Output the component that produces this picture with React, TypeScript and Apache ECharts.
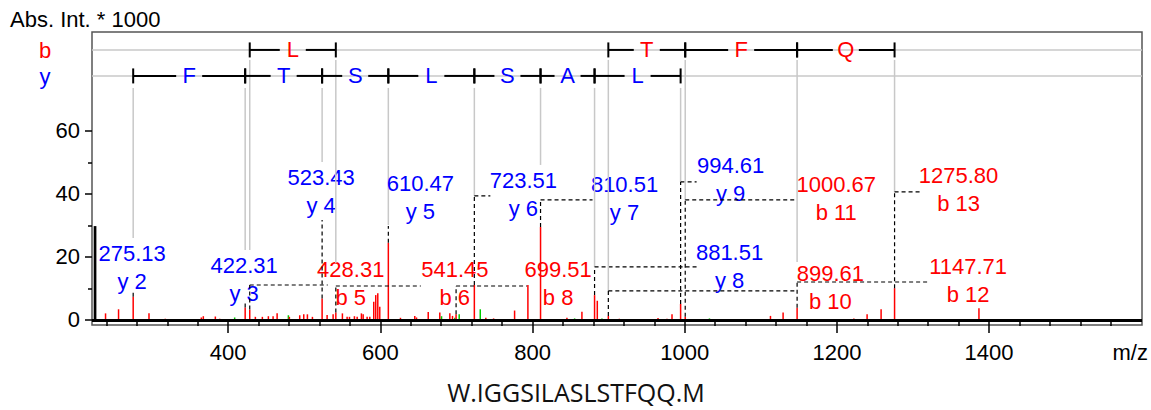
import React, { useEffect, useRef } from 'react';
import * as echarts from 'echarts';

// ---------- axis extents & tick labels ----------
const X_MIN = 221;
const X_MAX = 1601;
const Y_MIN = -1.59;
const Y_MAX = 91.4;

const xMajorTicks = [400, 600, 800, 1000, 1200, 1400];
const xMinorTicks = [240, 280, 320, 360, 440, 480, 520, 560, 640, 680, 720, 760, 840, 880, 920, 960,
  1040, 1080, 1120, 1160, 1240, 1280, 1320, 1360, 1440, 1480, 1520, 1560];
const yMajorTicks = [0, 20, 40, 60];
const yMinorTicks = [10, 30, 50];

// ---------- peaks: [m/z, intensity (x1000)] ----------
const redPeaks: [number, number][] = [
  [238.8, 2.1], [255.9, 3.4], [275.13, 7.4], [295.9, 2.1], [317.3, 0.4], [364.7, 0.8], [367.3, 1.2],
  [383.1, 1.1], [388.8, 0.4], [422.31, 4.0], [428.31, 3.3], [435.7, 1.0], [444.9, 1.0], [452.8, 1.2],
  [459.0, 1.2], [464.3, 2.1], [480.4, 1.0], [494.0, 1.5], [499.3, 1.8], [504.1, 1.8], [510.7, 1.0],
  [523.43, 6.8], [530.0, 1.6], [537.9, 1.8], [541.45, 2.4], [550.1, 2.1], [556.3, 1.0], [559.4, 1.0],
  [565.9, 1.2], [569.5, 1.0], [575.1, 2.1], [577.4, 1.8], [582.6, 1.0], [586.1, 1.0], [591.3, 5.8],
  [593.9, 7.9], [596.6, 8.5], [599.2, 4.2], [610.47, 24.5], [626.4, 0.7], [645.2, 1.3], [647.5, 0.8],
  [662.9, 2.5], [678.1, 2.4], [691.3, 2.1], [694.8, 1.3], [699.51, 1.8], [723.51, 11.1], [738.6, 0.7],
  [748.8, 0.5], [776.4, 3.0], [793.9, 11.1], [810.51, 29.5], [845.2, 0.7], [864.9, 2.6], [881.51, 7.9],
  [885.1, 6.1], [899.61, 1.3], [914.1, 0.4], [964.9, 0.6], [976.7, 0.4], [983.3, 1.8], [994.61, 5.1],
  [1000.67, 1.0], [1112.7, 1.3], [1129.3, 2.4], [1147.71, 3.9], [1222.3, 0.5], [1239.7, 1.8],
  [1258.1, 3.4], [1275.8, 10.1], [1386.7, 3.7],
];
const greenPeaks: [number, number][] = [
  [408.5, 0.8], [479.1, 1.5], [680.4, 1.2], [697.9, 0.7], [703.6, 1.8], [731.3, 3.4], [855.3, 0.5],
  [891.2, 0.5], [1032.5, 0.5],
];
const blackPeaks: [number, number][] = [[225.0, 29.8]];

// ---------- annotated fragment ions ----------
const ionNames = ['y 2', 'y 3', 'b 5', 'y 4', 'b 6', 'y 5', 'b 8', 'y 6', 'y 7', 'y 8', 'b 10', 'y 9', 'b 11', 'b 12', 'b 13'];
const ionMz = [275.13, 422.31, 428.31, 523.43, 541.45, 610.47, 699.51, 723.51, 810.51, 881.51, 899.61, 994.61, 1000.67, 1147.71, 1275.8];

// ---------- sequence ladders ----------
const yLadderMz = [275.13, 422.31, 523.43, 610.47, 723.51, 810.51, 881.51, 994.61];
const yLadderResidues = ['F', 'T', 'S', 'L', 'S', 'A', 'L'];
const bLadderStart = [428.31, 899.61, 1000.67, 1147.71];
const bLadderEnd = [541.45, 1000.67, 1147.71, 1275.8];
const bLadderResidues = ['L', 'T', 'F', 'Q'];

const sequenceText = 'W.IGGSILASLSTFQQ.M';

// ---------- layout (not data) ----------
const B_ROW = 85.71; // y-level of b ladder
const Y_ROW = 77.46; // y-level of y ladder
// dx: label centre offset (px), mid: label centre level, conn: connector level,
// end: horizontal connector length (px), gray: end level of ladder guide line
const labelLayout = [
  { dx: -1, mid: 16.67, conn: 9.21, end: null, gray: 26.03 },
  { dx: -1, mid: 12.7, conn: 5.71, end: null, gray: 22.22 },
  { dx: 101, mid: 11.59, conn: 11.11, end: 78, gray: 22.22 },
  { dx: -1, mid: 40.79, conn: 31.75, end: null, gray: 50.16 },
  { dx: 119, mid: 11.43, conn: 10.79, end: 85, gray: 18.1 },
  { dx: 32, mid: 38.89, conn: 29.84, end: null, gray: 30.16 },
  { dx: 102, mid: 11.43, conn: 10.79, end: 71, gray: null },
  { dx: 49, mid: 39.68, conn: 39.37, end: 16, gray: 39.37 },
  { dx: 84, mid: 38.41, conn: 38.1, end: 52, gray: 49.21 },
  { dx: 135, mid: 16.83, conn: 16.83, end: 102, gray: 16.83 },
  { dx: 222, mid: 10.16, conn: 9.21, end: 188, gray: 9.21 },
  { dx: 50, mid: 44.6, conn: 43.81, end: 16, gray: 43.81 },
  { dx: 151, mid: 38.57, conn: 38.1, end: 111, gray: 38.1 },
  { dx: 171, mid: 12.54, conn: 12.06, end: 131, gray: 18.41 },
  { dx: 64, mid: 41.43, conn: 40.63, end: 25, gray: 40.63 },
];

const FONT = '"Liberation Sans", Arial, sans-serif';
const RED = '#ff0000';
const BLUE = '#0000ff';
const GREEN = '#00cc00';
const GRAY = '#c8c8c8';

const intensityOf = (mz: number) => {
  const p = redPeaks.find((d) => Math.abs(d[0] - mz) < 0.01);
  return p ? p[1] : 0;
};

const peakSeries = (name: string, data: [number, number][], color: string, width: number) => ({
  type: 'custom',
  name,
  data,
  clip: true,
  silent: true,
  z: 3,
  encode: { x: 0, y: 1 },
  renderItem: (_p: any, api: any) => {
    const m = api.value(0);
    const a = api.coord([m, 0]);
    const b = api.coord([m, api.value(1)]);
    return {
      type: 'line',
      shape: { x1: a[0], y1: a[1], x2: b[0], y2: b[1] },
      style: { stroke: color, lineWidth: width },
    };
  },
});

const dashStyle = { stroke: '#000', lineWidth: 1.2, lineDash: [4, 3] };

function buildOption(): any {
  const annotData = ionMz.map((mz, i) => [mz, intensityOf(mz), i]);
  const ladderData: number[][] = [];
  for (let i = 0; i < yLadderResidues.length; i++) ladderData.push([yLadderMz[i], yLadderMz[i + 1], Y_ROW, i, 0]);
  for (let j = 0; j < bLadderResidues.length; j++) ladderData.push([bLadderStart[j], bLadderEnd[j], B_ROW, j, 1]);

  const textStyle = (color: string, extra: any = {}) => ({
    font: `22px ${FONT}`,
    fill: color,
    ...extra,
  });

  return {
    animation: false,
    grid: {
      left: 92, top: 32, width: 1050, height: 293,
      show: true, borderColor: '#555', borderWidth: 1.5, backgroundColor: 'transparent',
    },
    xAxis: [
      {
        type: 'value', min: X_MIN, max: X_MAX, position: 'bottom',
        axisLine: { show: false }, splitLine: { show: false },
        axisTick: { show: true, customValues: xMajorTicks, length: 13, lineStyle: { color: '#000', width: 1.5 } },
        axisLabel: { customValues: xMajorTicks, fontSize: 22, fontFamily: FONT, color: '#000', margin: 16, formatter: (v: number) => String(v) },
      },
      {
        type: 'value', min: X_MIN, max: X_MAX, position: 'bottom',
        axisLine: { show: false }, splitLine: { show: false },
        axisTick: { show: true, customValues: xMinorTicks, length: 6, lineStyle: { color: '#000', width: 1.5 } },
        axisLabel: { show: false },
      },
    ],
    yAxis: [
      {
        type: 'value', min: Y_MIN, max: Y_MAX, position: 'left',
        axisLine: { show: false }, splitLine: { show: false },
        axisTick: { show: true, customValues: yMajorTicks, length: 7, lineStyle: { color: '#000', width: 1.5 } },
        axisLabel: { customValues: yMajorTicks, fontSize: 22, fontFamily: FONT, color: '#000', margin: 12, formatter: (v: number) => String(v) },
      },
      {
        type: 'value', min: Y_MIN, max: Y_MAX, position: 'left',
        axisLine: { show: false }, splitLine: { show: false },
        axisTick: { show: true, customValues: yMinorTicks, length: 4, lineStyle: { color: '#000', width: 1.5 } },
        axisLabel: { show: false },
      },
    ],
    graphic: [
      { type: 'text', x: 10, y: 19, style: textStyle('#000', { text: 'Abs. Int. * 1000', textVerticalAlign: 'middle', verticalAlign: 'middle' }) },
      { type: 'text', x: 45, y: 50, style: textStyle(RED, { text: 'b', textAlign: 'center', align: 'center', textVerticalAlign: 'middle', verticalAlign: 'middle' }) },
      { type: 'text', x: 45, y: 76, style: textStyle(BLUE, { text: 'y', textAlign: 'center', align: 'center', textVerticalAlign: 'middle', verticalAlign: 'middle' }) },
      { type: 'text', x: 1148, y: 352, style: textStyle('#000', { text: 'm/z', textAlign: 'right', align: 'right', textVerticalAlign: 'middle', verticalAlign: 'middle' }) },
      {
        type: 'text', x: 576, y: 392,
        style: { text: sequenceText, font: '25px "Open Sans", sans-serif', fill: '#111', textAlign: 'center', align: 'center', textVerticalAlign: 'middle', verticalAlign: 'middle' },
      },
    ],
    series: [
      {
        type: 'line', data: [], silent: true, z: 1,
        markLine: {
          silent: true, symbol: ['none', 'none'], label: { show: false }, animation: false,
          data: [
            { yAxis: B_ROW, lineStyle: { color: GRAY, width: 1.5, type: 'solid' } },
            { yAxis: Y_ROW, lineStyle: { color: GRAY, width: 1.5, type: 'solid' } },
          ],
        },
      },
      peakSeries('green', greenPeaks, GREEN, 1.5),
      peakSeries('red', redPeaks, RED, 1.5),
      peakSeries('black', blackPeaks, '#000', 2.7),
      {
        type: 'line', data: [], silent: true, z: 4,
        markLine: {
          silent: true, symbol: ['none', 'none'], label: { show: false }, animation: false,
          data: [{ yAxis: 0, lineStyle: { color: '#000', width: 3, type: 'solid' } }],
        },
      },
      {
        type: 'custom', name: 'annotations', data: annotData, silent: true, z: 6,
        encode: { x: 0, y: 1 },
        renderItem: (_p: any, api: any) => {
          const mz = api.value(0);
          const i = api.value(2);
          const name = ionNames[i];
          const isY = name[0] === 'y';
          const L = labelLayout[i];
          const top = api.coord([mz, api.value(1)]);
          const x = top[0];
          const connY = api.coord([mz, L.conn])[1];
          const children: any[] = [];
          if (L.gray != null) {
            const startY = api.coord([mz, isY ? Y_ROW : B_ROW])[1] + (isY ? 12 : 10);
            const endY = api.coord([mz, L.gray])[1];
            children.push({ type: 'line', shape: { x1: x, y1: startY, x2: x, y2: endY }, style: { stroke: GRAY, lineWidth: 1.5 } });
          }
          children.push({ type: 'line', shape: { x1: x, y1: top[1], x2: x, y2: connY }, style: dashStyle });
          if (L.end != null) {
            children.push({ type: 'line', shape: { x1: x, y1: connY, x2: x + L.end, y2: connY }, style: dashStyle });
          }
          const midY = api.coord([mz, L.mid])[1];
          children.push({
            type: 'text',
            style: {
              text: mz.toFixed(2) + '\n' + name,
              x: x + L.dx, y: midY,
              font: `22px ${FONT}`,
              fill: isY ? BLUE : RED,
              textAlign: 'center', align: 'center',
              textVerticalAlign: 'middle', verticalAlign: 'middle',
              lineHeight: 28,
            },
          });
          return { type: 'group', children };
        },
      },
      {
        type: 'custom', name: 'ladder', data: ladderData, silent: true, z: 7,
        encode: { x: [0, 1], y: 2 },
        renderItem: (_p: any, api: any) => {
          const row = api.value(2);
          const idx = api.value(3);
          const isB = api.value(4) === 1;
          const p1 = api.coord([api.value(0), row]);
          const p2 = api.coord([api.value(1), row]);
          const y = p1[1];
          const mid = (p1[0] + p2[0]) / 2;
          const ls = { stroke: '#000', lineWidth: 2 };
          return {
            type: 'group',
            children: [
              { type: 'line', shape: { x1: p1[0], y1: y, x2: mid - 13, y2: y }, style: ls },
              { type: 'line', shape: { x1: mid + 13, y1: y, x2: p2[0], y2: y }, style: ls },
              { type: 'line', shape: { x1: p1[0], y1: y - 7.5, x2: p1[0], y2: y + 7.5 }, style: ls },
              { type: 'line', shape: { x1: p2[0], y1: y - 7.5, x2: p2[0], y2: y + 7.5 }, style: ls },
              {
                type: 'text',
                style: {
                  text: isB ? bLadderResidues[idx] : yLadderResidues[idx],
                  x: mid, y,
                  font: `22px ${FONT}`,
                  fill: isB ? RED : BLUE,
                  textAlign: 'center', align: 'center',
                  textVerticalAlign: 'middle', verticalAlign: 'middle',
                },
              },
            ],
          };
        },
      },
    ],
  };
}

export default function App() {
  const ref = useRef<HTMLDivElement>(null);
  useEffect(() => {
    if (!ref.current) return;
    const chart = echarts.init(ref.current, null, { renderer: 'svg' });
    chart.setOption(buildOption());
    return () => chart.dispose();
  }, []);
  return <div ref={ref} style={{ position: 'fixed', left: 0, top: 0, width: 1151, height: 410, background: '#fff' }} />;
}
